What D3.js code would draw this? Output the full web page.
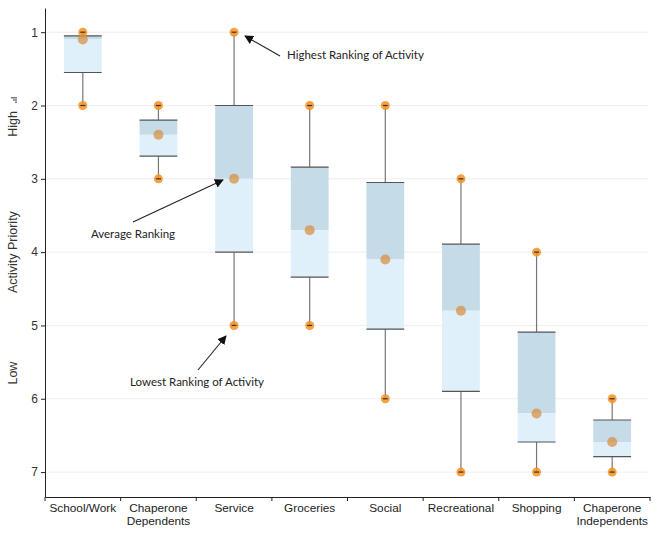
<!DOCTYPE html>
<html>
<head>
<meta charset="utf-8">
<script src="https://cdn.jsdelivr.net/npm/d3@7"></script>
<style>
	body { margin: 0; background: #fff; }
	text { font-family: "Liberation Sans", Arial, sans-serif; }
	.note { font-family: Lato, "Liberation Sans", sans-serif; font-size: 11.5px; fill: #222; }
</style>
</head>
<body>
<div id="chart"></div>
<script>
const categories = ['School/Work', 'Chaperone Dependents', 'Service', 'Groceries', 'Social', 'Recreational', 'Shopping', 'Chaperone Independents']
const highest = [1, 2, 1, 2, 2, 3, 4, 6]
const boxTop = [1.05, 2.2, 2, 2.84, 3.05, 3.89, 5.09, 6.29]
const average = [1.1, 2.4, 3, 3.7, 4.1, 4.8, 6.2, 6.59]
const boxBottom = [1.55, 2.69, 4, 4.34, 5.05, 5.9, 6.59, 6.79]
const lowest = [2, 3, 5, 5, 6, 7, 7, 7]
const yTicks = [1, 2, 3, 4, 5, 6, 7]

const rows = categories.map((c, i) => ({
	name: c, max: highest[i], q1: boxTop[i], avg: average[i], q3: boxBottom[i], min: lowest[i]
}))

const width = 660, height = 534
const margin = {top: 8, right: 10, bottom: 37, left: 45}

const svg = d3.select('#chart').append('svg')
	.attr('width', width)
	.attr('height', height)

const x = d3.scaleBand()
	.domain(categories)
	.range([margin.left, width - margin.right])

const y = d3.scaleLinear()
	.domain([0.67, 7.34])
	.range([margin.top, height - margin.bottom])

// grid
svg.append('g').selectAll('line')
	.data(yTicks)
	.enter().append('line')
		.attr('x1', margin.left).attr('x2', width - margin.right - 2)
		.attr('y1', d => y(d)).attr('y2', d => y(d))
		.attr('stroke', '#eee')

// y axis
const yAxis = svg.append('g')
	.attr('transform', `translate(${margin.left},0)`)
	.call(d3.axisLeft(y).tickValues(yTicks).tickFormat(d3.format('d')).tickSize(4).tickSizeOuter(0))
yAxis.select('.domain').attr('stroke', '#222')
yAxis.selectAll('.tick line').attr('stroke', '#222')
yAxis.selectAll('.tick text').attr('font-size', 12).attr('fill', '#333').attr('x', -7)

// x axis
const xAxis = svg.append('g')
	.attr('transform', `translate(0,${height - margin.bottom})`)
	.call(d3.axisBottom(x).tickSize(0).tickSizeOuter(0))
xAxis.select('.domain').attr('stroke', '#222')
xAxis.selectAll('.tick line').remove()
xAxis.selectAll('.tick text').remove()
// boundary ticks
xAxis.selectAll('line.sep')
	.data(categories.concat(['end']))
	.enter().append('line')
		.attr('class', 'sep')
		.attr('x1', (d, i) => margin.left + i * x.bandwidth())
		.attr('x2', (d, i) => margin.left + i * x.bandwidth())
		.attr('y1', 0).attr('y2', 4)
		.attr('stroke', '#222')
const labels = xAxis.selectAll('text.lab')
	.data(categories)
	.enter().append('text')
		.attr('class', 'lab')
		.attr('x', d => x(d) + x.bandwidth() / 2)
		.attr('y', 15)
		.attr('text-anchor', 'middle')
		.attr('font-size', 11.8)
		.attr('fill', '#222')
labels.each(function(d) {
	const words = d.split(' ')
	const t = d3.select(this)
	words.forEach((w, i) => {
		t.append('tspan').attr('x', x(d) + x.bandwidth() / 2).attr('dy', i ? 13 : 0).text(w)
	})
})

// y label
const yl = svg.append('g').attr('transform', 'translate(17,0)')
yl.append('text').attr('transform', `translate(0,${y(4)}) rotate(-90)`)
	.attr('text-anchor', 'middle').attr('font-size', 12.5).attr('fill', '#333').text('Activity Priority')
yl.append('text').attr('transform', `translate(0,${y(5.65)}) rotate(-90)`)
	.attr('text-anchor', 'middle').attr('font-size', 12.5).attr('fill', '#333').text('Low')
yl.append('text').attr('transform', `translate(0,${y(2.25)}) rotate(-90)`)
	.attr('text-anchor', 'middle').attr('font-size', 12.5).attr('fill', '#333').text('High')
// little bars icon next to High
const icon = yl.append('g').attr('transform', `translate(0,${y(2.25) - 21}) rotate(-90)`)
icon.selectAll('rect')
	.data([2, 4, 6])
	.enter().append('rect')
		.attr('x', (d, i) => i * 2.2)
		.attr('y', d => -d)
		.attr('width', 1.3)
		.attr('height', d => d)
		.attr('fill', '#666')

// boxes
const bw = x.bandwidth() / 2
const g = svg.append('g').selectAll('g.box')
	.data(rows)
	.enter().append('g')
		.attr('class', 'box')
		.attr('transform', d => `translate(${x(d.name) + x.bandwidth() / 2},0)`)

g.append('line')
	.attr('y1', d => y(d.max)).attr('y2', d => y(d.q1))
	.attr('stroke', '#777').attr('stroke-width', 1.2)
g.append('line')
	.attr('y1', d => y(d.q3)).attr('y2', d => y(d.min))
	.attr('stroke', '#777').attr('stroke-width', 1.2)

g.append('rect')
	.attr('x', -bw / 2).attr('width', bw)
	.attr('y', d => y(d.q1)).attr('height', d => y(d.avg) - y(d.q1))
	.attr('fill', '#c5dce8')
g.append('rect')
	.attr('x', -bw / 2).attr('width', bw)
	.attr('y', d => y(d.avg)).attr('height', d => y(d.q3) - y(d.avg))
	.attr('fill', '#e0f0fb')
g.append('line')
	.attr('x1', -bw / 2).attr('x2', bw / 2)
	.attr('y1', d => y(d.q1)).attr('y2', d => y(d.q1))
	.attr('stroke', '#555').attr('stroke-width', 1.2)
g.append('line')
	.attr('x1', -bw / 2).attr('x2', bw / 2)
	.attr('y1', d => y(d.q3)).attr('y2', d => y(d.q3))
	.attr('stroke', '#555').attr('stroke-width', 1.2)

// end points
;['max', 'min'].forEach(k => {
	g.append('circle')
		.attr('cy', d => y(d[k])).attr('r', 4.5)
		.attr('fill', '#f7901e').attr('fill-opacity', 0.85)
	g.append('line')
		.attr('x1', -2.5).attr('x2', 2.5)
		.attr('y1', d => y(d[k])).attr('y2', d => y(d[k]))
		.attr('stroke', '#333').attr('stroke-width', 1.2)
})
g.append('circle')
	.attr('cy', d => y(d.avg)).attr('r', 5)
	.attr('fill', '#d98a3a').attr('fill-opacity', 0.7)

// annotations
svg.append('defs').append('marker')
	.attr('id', 'arrow')
	.attr('viewBox', '0 0 10 10')
	.attr('refX', 9).attr('refY', 5)
	.attr('markerWidth', 9).attr('markerHeight', 9)
	.attr('markerUnits', 'userSpaceOnUse')
	.attr('orient', 'auto')
	.append('path').attr('d', 'M0,0L10,5L0,10Z').attr('fill', '#111')

const notes = [
	{text: 'Highest Ranking of Activity', tx: 287, ty: 59, anchor: 'start', x1: 280, y1: 56, x2: 245, y2: 36},
	{text: 'Average Ranking', tx: 133, ty: 238, anchor: 'middle', x1: 133, y1: 222, x2: 223, y2: 180},
	{text: 'Lowest Ranking of Activity', tx: 197, ty: 386, anchor: 'middle', x1: 198, y1: 370, x2: 226, y2: 336}
]
const ann = svg.append('g').selectAll('g').data(notes).enter().append('g')
ann.append('line')
	.attr('x1', d => d.x1).attr('y1', d => d.y1)
	.attr('x2', d => d.x2).attr('y2', d => d.y2)
	.attr('stroke', '#222').attr('stroke-width', 1.1)
	.attr('marker-end', 'url(#arrow)')
ann.append('text')
	.attr('class', 'note')
	.attr('x', d => d.tx).attr('y', d => d.ty)
	.attr('text-anchor', d => d.anchor)
	.text(d => d.text)
</script>
</body>
</html>
